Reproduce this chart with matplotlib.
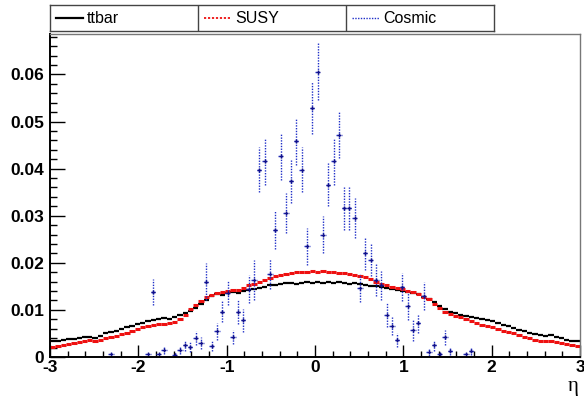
import numpy as np
import matplotlib
matplotlib.use("Agg")
import matplotlib.pyplot as plt
from matplotlib.ticker import MultipleLocator, FixedLocator, FixedFormatter

# eta binning: 100 bins from -3 to 3
edges = np.linspace(-3, 3, 101)

ttbar = [0.0033, 0.0035, 0.0037, 0.0038, 0.0038, 0.0040, 0.0043, 0.0043, 0.0041, 0.0045,
         0.0050, 0.0053, 0.0056, 0.0059, 0.0063, 0.0066, 0.0071, 0.0073, 0.0076, 0.0079,
         0.0081, 0.0083, 0.0080, 0.0085, 0.0090, 0.0093, 0.0097, 0.0104, 0.0113, 0.0122,
         0.0130, 0.0133, 0.0132, 0.0136, 0.0138, 0.0136, 0.0140, 0.0142, 0.0144, 0.0147,
         0.0149, 0.0152, 0.0153, 0.0155, 0.0157, 0.0158, 0.0156, 0.0158, 0.0159, 0.0157,
         0.0160, 0.0158, 0.0159, 0.0157, 0.0160, 0.0158, 0.0156, 0.0157, 0.0155, 0.0153,
         0.0151, 0.0150, 0.0148, 0.0147, 0.0145, 0.0143, 0.0140, 0.0138, 0.0136, 0.0133,
         0.0128, 0.0124, 0.0117, 0.0108, 0.0101, 0.0096, 0.0093, 0.0090, 0.0087, 0.0085,
         0.0083, 0.0080, 0.0078, 0.0076, 0.0073, 0.0068, 0.0065, 0.0062, 0.0058, 0.0055,
         0.0052, 0.0049, 0.0046, 0.0045, 0.0046, 0.0043, 0.0040, 0.0037, 0.0035, 0.0033]

susy = [0.0022, 0.0024, 0.0026, 0.0028, 0.0030, 0.0032, 0.0034, 0.0036, 0.0034, 0.0037,
        0.0040, 0.0042, 0.0045, 0.0048, 0.0052, 0.0055, 0.0059, 0.0063, 0.0066, 0.0068,
        0.0070, 0.0071, 0.0072, 0.0075, 0.0080, 0.0089, 0.0102, 0.0110, 0.0118, 0.0127,
        0.0132, 0.0135, 0.0138, 0.0141, 0.0143, 0.0142, 0.0147, 0.0152, 0.0156, 0.0160,
        0.0164, 0.0168, 0.0172, 0.0175, 0.0177, 0.0178, 0.0180, 0.0181, 0.0180, 0.0182,
        0.0181, 0.0182, 0.0180, 0.0181, 0.0179, 0.0178, 0.0176, 0.0174, 0.0172, 0.0169,
        0.0165, 0.0160, 0.0156, 0.0152, 0.0149, 0.0147, 0.0144, 0.0141, 0.0138, 0.0134,
        0.0127, 0.0123, 0.0113, 0.0104, 0.0096, 0.0091, 0.0087, 0.0084, 0.0080, 0.0077,
        0.0073, 0.0069, 0.0066, 0.0063, 0.0060, 0.0056, 0.0053, 0.0050, 0.0046, 0.0043,
        0.0040, 0.0037, 0.0034, 0.0033, 0.0035, 0.0032, 0.0029, 0.0027, 0.0025, 0.0023]

cosmic = [0, 0, 0, 0, 0, 0, 0, 0, 0, 0,
          0, 0.0006, 0, 0, 0, 0, 0, 0, 0.0006, 0.0138,
          0.0006, 0.0015, 0, 0.0005, 0.0015, 0.0025, 0.0021, 0.0040, 0.0030, 0.0160,
          0.0024, 0.0055, 0.0096, 0.0136, 0.0043, 0.0096, 0.0078, 0.0145, 0.0164, 0.0398,
          0.0416, 0.0176, 0.0270, 0.0426, 0.0306, 0.0373, 0.0458, 0.0398, 0.0235, 0.0528,
          0.0606, 0.0260, 0.0366, 0.0416, 0.0472, 0.0316, 0.0316, 0.0295, 0.0146, 0.0220,
          0.0206, 0.0164, 0.0152, 0.0089, 0.0066, 0.0036, 0.0148, 0.0108, 0.0057, 0.0072,
          0.0130, 0.0011, 0.0025, 0.0006, 0.0042, 0.0013, 0, 0, 0.0006, 0.0013,
          0, 0, 0, 0, 0, 0, 0, 0, 0, 0,
          0, 0, 0, 0, 0, 0, 0, 0, 0, 0]

cosmic_err = [0, 0, 0, 0, 0, 0, 0, 0, 0, 0,
              0, 0.0005, 0, 0, 0, 0, 0, 0, 0.0005, 0.0028,
              0.0005, 0.0008, 0, 0.0005, 0.0008, 0.0012, 0.0011, 0.0015, 0.0012, 0.0040,
              0.0012, 0.0018, 0.0022, 0.0025, 0.0015, 0.0025, 0.0025, 0.0030, 0.0043, 0.0048,
              0.0050, 0.0032, 0.0040, 0.0050, 0.0043, 0.0046, 0.0050, 0.0048, 0.0040, 0.0055,
              0.0060, 0.0040, 0.0046, 0.0050, 0.0050, 0.0046, 0.0046, 0.0043, 0.0030, 0.0035,
              0.0035, 0.0035, 0.0030, 0.0025, 0.0020, 0.0015, 0.0030, 0.0030, 0.0023, 0.0020,
              0.0030, 0.0008, 0.0012, 0.0005, 0.0016, 0.0008, 0, 0, 0.0005, 0.0008,
              0, 0, 0, 0, 0, 0, 0, 0, 0, 0,
              0, 0, 0, 0, 0, 0, 0, 0, 0, 0]

labels = ["ttbar", "SUSY", "Cosmic"]
xticks = [-3, -2, -1, 0, 1, 2, 3]
yticks = [0, 0.01, 0.02, 0.03, 0.04, 0.05, 0.06]
ytick_labels = ["0", "0.01", "0.02", "0.03", "0.04", "0.05", "0.06"]

centers = 0.5 * (edges[:-1] + edges[1:])
halfw = 0.5 * (edges[1] - edges[0])

plt.rcParams["font.family"] = ["Liberation Sans", "DejaVu Sans"]

W, H = 584, 401
fig = plt.figure(figsize=(W / 100, H / 100), dpi=100)
ax = fig.add_axes([50 / W, 1 - 357 / H, 530 / W, 323 / H])

blue = "#1f2fc8"

ax.errorbar(centers, ttbar, xerr=halfw, yerr=0.00015, fmt="none",
            ecolor="black", elinewidth=1.6, capsize=0)
ax.errorbar(centers, susy, xerr=halfw, yerr=0.00015, fmt="none",
            ecolor="#ee1111", elinewidth=2.2, capsize=0)

c = np.array(cosmic)
e = np.array(cosmic_err)
m = c > 0
eb = ax.errorbar(centers[m], c[m], xerr=halfw, yerr=e[m], fmt="+", ms=3,
                 color="#10108a", mew=1, ecolor=blue, elinewidth=1.0, capsize=0)
for lc in eb.lines[2]:
    lc.set_linestyle((0, (1, 1)))

ax.set_xlim(-3, 3)
ax.set_ylim(0, 0.0686)
ax.xaxis.set_major_locator(FixedLocator(xticks))
ax.set_xticklabels([str(t) for t in xticks])
ax.xaxis.set_minor_locator(MultipleLocator(0.2))
ax.yaxis.set_major_locator(FixedLocator(yticks))
ax.yaxis.set_major_formatter(FixedFormatter(ytick_labels))
ax.yaxis.set_minor_locator(MultipleLocator(0.002))

ax.tick_params(axis="both", which="both", direction="in", top=False, right=False,
               labelsize=12.5, width=1)
ax.tick_params(axis="x", which="major", length=8.5, pad=2)
ax.tick_params(axis="x", which="minor", length=4.5)
ax.tick_params(axis="y", which="major", length=10.5, pad=4)
ax.tick_params(axis="y", which="minor", length=5)
for lab in ax.get_xticklabels() + ax.get_yticklabels():
    lab.set_fontweight("bold")

for s in ["left", "bottom"]:
    ax.spines[s].set_linewidth(1.4)
    ax.spines[s].set_color("black")
for s in ["top", "right"]:
    ax.spines[s].set_linewidth(1.0)
    ax.spines[s].set_color("#777777")

fig.text(573 / W, 1 - 386 / H, "\u03b7", ha="center", va="center",
         fontsize=15, family=["Liberation Serif", "DejaVu Serif"])

# legend box with three cells
lax = fig.add_axes([50 / W, 1 - 31 / H, 444 / W, 26 / H])
lax.set_xlim(0, 3)
lax.set_ylim(0, 1)
lax.set_xticks([])
lax.set_yticks([])
for s in lax.spines.values():
    s.set_color("#444444")
    s.set_linewidth(1.0)
lax.axvline(1, color="#444444", lw=1.0)
lax.axvline(2, color="#444444", lw=1.0)
styles = [dict(color="black", lw=1.6, ls="-"),
          dict(color="#ee1111", lw=1.3, ls=(0, (1.2, 1))),
          dict(color=blue, lw=1.0, ls=(0, (1, 1)))]
for k, (lab, st) in enumerate(zip(labels, styles)):
    lax.plot([k + 0.04, k + 0.22], [0.5, 0.5], **st)
    lax.text(k + 0.25, 0.47, lab, ha="left", va="center", fontsize=11.5)

fig.savefig("out.png", dpi=100)
